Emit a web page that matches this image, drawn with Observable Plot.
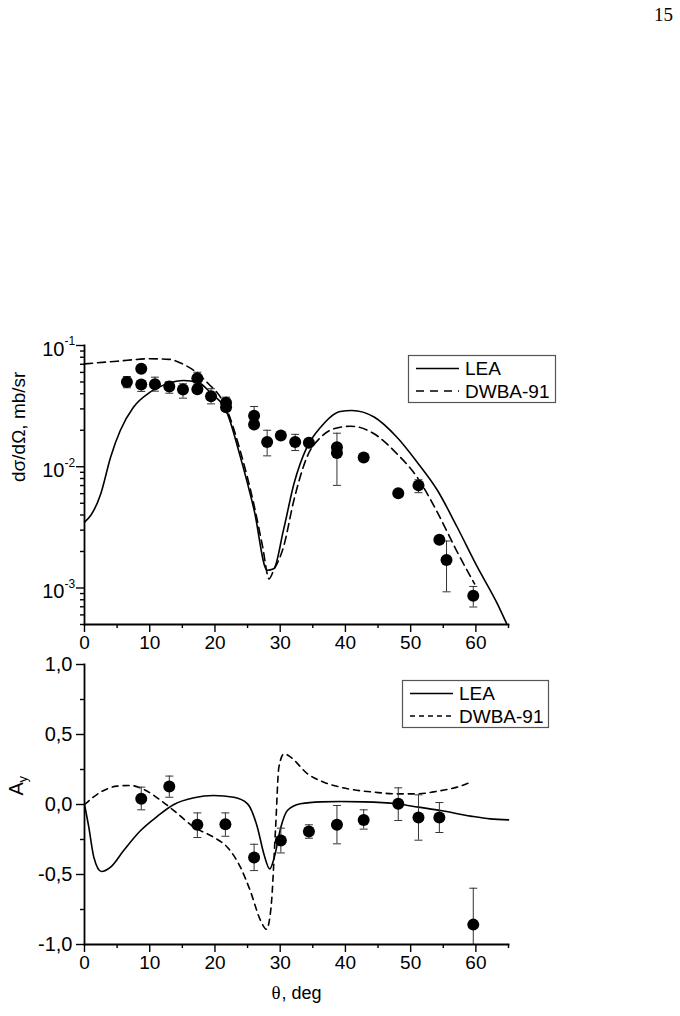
<!DOCTYPE html>
<html>
<head>
<meta charset="utf-8">
<script src="https://cdn.jsdelivr.net/npm/d3@7"></script>
<script src="https://cdn.jsdelivr.net/npm/@observablehq/plot@0.6"></script>
<style>
  body { margin: 0; background: #fff; }
  #page { position: relative; width: 680px; height: 1016px; overflow: hidden; background: #fff; }
  .abs { position: absolute; left: 0; }
</style>
</head>
<body>
<div id="page"></div>
<script>
// ---- Cross section dσ/dΩ (mb/sr), experiment ----
const csTheta = [6.5, 8.7, 8.7, 10.8, 13.0, 15.1, 17.3, 17.3, 19.4, 21.7, 21.7, 26.0, 26.0, 28.0, 30.1, 32.3, 34.4, 38.7, 38.7, 42.8, 48.1, 51.2, 54.4, 55.5, 59.6];
const csValue = [0.0499, 0.0643, 0.0477, 0.048, 0.0459, 0.0434, 0.0436, 0.0537, 0.0382, 0.0337, 0.031, 0.0263, 0.0223, 0.0160, 0.0181, 0.0160, 0.0158, 0.0145, 0.0130, 0.0119, 0.00605, 0.00702, 0.0025, 0.0017, 0.000863];
const csLow   = [0.0448, null, 0.0418, 0.042, 0.0404, 0.0368, 0.0405, 0.048, 0.033, 0.0286, null, 0.0223, null, 0.0123, null, 0.0136, null, 0.00702, null, null, 0.0058, 0.00611, null, 0.00093, 0.000697];
const csHigh  = [0.0555, null, 0.0514, 0.0548, 0.0505, 0.0483, 0.047, 0.0602, 0.044, 0.0375, null, 0.0314, null, 0.020, null, 0.0185, null, 0.0189, null, null, 0.0064, 0.00781, null, 0.00244, 0.00103];

// ---- Cross section, LEA calculation ----
const csLeaTheta = [0, 1, 2.5, 4, 5.5, 7.5, 10, 12.7, 15.2, 17.3, 19.3, 21.9, 23.9, 26, 28, 29, 30.5, 32.1, 34.1, 36.2, 39.2, 41, 44.4, 47.9, 51, 54.1, 57.1, 60.2, 63.3, 64.7];
const csLeaValue = [0.0035, 0.004, 0.006, 0.012, 0.020, 0.031, 0.041, 0.0483, 0.0514, 0.0499, 0.041, 0.0274, 0.012, 0.0044, 0.0014, 0.00144, 0.0030, 0.0072, 0.0145, 0.0212, 0.0286, 0.0291, 0.0257, 0.0175, 0.0109, 0.0064, 0.0032, 0.0015, 0.00074, 0.00051];

// ---- Cross section, DWBA-91 calculation ----
const csDwbaTheta = [0, 5, 10, 13, 15, 17, 19, 21, 22, 24, 26, 27.3, 28.3, 29, 30.5, 32.1, 34.1, 36.2, 39.2, 40.8, 44.4, 47.9, 51, 54.1, 57.1, 59.8];
const csDwbaValue = [0.0706, 0.0742, 0.0777, 0.0769, 0.0706, 0.061, 0.0483, 0.0363, 0.028, 0.0128, 0.0048, 0.0022, 0.00119, 0.0014, 0.00217, 0.0053, 0.012, 0.0175, 0.0212, 0.0216, 0.0187, 0.0128, 0.0082, 0.0042, 0.0020, 0.00108];

// ---- Analyzing power A_y, experiment ----
const ayTheta = [8.7, 13.0, 17.3, 21.6, 26.0, 30.1, 34.4, 38.7, 42.8, 48.1, 51.2, 54.4, 59.6];
const ayValue = [0.041, 0.129, -0.145, -0.141, -0.379, -0.257, -0.193, -0.145, -0.110, 0.005, -0.093, -0.093, -0.858];
const ayLow   = [-0.038, 0.052, -0.236, -0.227, -0.472, -0.346, -0.241, -0.281, -0.176, -0.114, -0.255, -0.2, -1.0];
const ayHigh  = [0.124, 0.203, -0.06, -0.06, -0.284, -0.169, -0.145, -0.007, -0.038, 0.119, 0.069, 0.014, -0.598];

// ---- A_y, LEA calculation ----
const ayLeaTheta = [0, 0.66, 1.43, 2.6, 4, 6, 8.6, 11.2, 13.7, 16.8, 19.8, 22.9, 25, 26.5, 27.5, 28.4, 29.1, 30.1, 31.1, 33.1, 36.2, 39.2, 42.8, 47.9, 51.2, 54.6, 59.2, 62.2, 65];
const ayLeaValue = [0, -0.162, -0.377, -0.479, -0.448, -0.329, -0.186, -0.083, 0, 0.048, 0.064, 0.052, 0.005, -0.162, -0.353, -0.46, -0.377, -0.162, -0.043, 0.005, 0.019, 0.021, 0.019, 0.005, -0.019, -0.043, -0.083, -0.103, -0.11];

// ---- A_y, DWBA-91 calculation ----
const ayDwbaTheta = [0, 2.45, 5, 7, 9.1, 11.7, 13.7, 16.8, 19.8, 21.9, 23.9, 25.4, 27, 27.9, 28.6, 29.3, 29.8, 30.6, 31.6, 34.2, 36.7, 39.2, 41, 44.4, 47.9, 51, 54.1, 57.1, 59.5];
const ayDwbaValue = [0, 0.088, 0.131, 0.136, 0.107, 0.029, -0.043, -0.162, -0.234, -0.305, -0.448, -0.615, -0.829, -0.891, -0.734, -0.162, 0.267, 0.362, 0.338, 0.219, 0.159, 0.124, 0.107, 0.088, 0.076, 0.076, 0.095, 0.124, 0.165];

// ---- Axis ticks ----
const thetaMajor = [0, 10, 20, 30, 40, 50, 60];
const thetaMinor = [5, 15, 25, 35, 45, 55, 65];
const csDecades = [1e-3, 1e-2, 1e-1];
const csMinor = [5e-4, 6e-4, 7e-4, 8e-4, 9e-4,
                 2e-3, 3e-3, 4e-3, 5e-3, 6e-3, 7e-3, 8e-3, 9e-3,
                 2e-2, 3e-2, 4e-2, 5e-2, 6e-2, 7e-2, 8e-2, 9e-2];
const ayMajor = [-1, -0.5, 0, 0.5, 1];
const ayMinor = [-0.75, -0.25, 0.25, 0.75];

const FONT = '"Liberation Sans", Arial, sans-serif';
const SERIF = '"Liberation Serif", "DejaVu Serif", serif';
const zip = (xs, ys) => xs.map((x, i) => ({x, y: ys[i]}));
const csPoints = csTheta.map((x, i) => ({x, y: csValue[i], lo: csLow[i], hi: csHigh[i]}));
const csBars = csPoints.filter(d => d.lo != null);
const ayPoints = ayTheta.map((x, i) => ({x, y: ayValue[i], lo: ayLow[i], hi: ayHigh[i]}));

// short horizontal cap for the error bars
const cap = {draw(ctx) { ctx.moveTo(-4, 0); ctx.lineTo(4, 0); }};

function errorMarks(data) {
  return [
    Plot.ruleX(data, {x: "x", y1: "lo", y2: "hi", stroke: "#333", strokeWidth: 1}),
    Plot.dot(data, {x: "x", y: "lo", symbol: cap, fill: "none", stroke: "#333", strokeWidth: 1}),
    Plot.dot(data, {x: "x", y: "hi", symbol: cap, fill: "none", stroke: "#333", strokeWidth: 1})
  ];
}

function thetaAxes() {
  return [
    Plot.axisX({ticks: thetaMajor, tickSize: 8, tickPadding: 3, tickFormat: d => String(d), fontSize: 19, strokeWidth: 1.4, label: null}),
    Plot.axisX({ticks: thetaMinor, tickSize: 4, tickFormat: () => "", strokeWidth: 1.4, label: null}),
    Plot.frame({anchor: "bottom", strokeWidth: 1.8}),
    Plot.frame({anchor: "left", strokeWidth: 1.8})
  ];
}

const page = document.getElementById("page");

// ---- Upper panel: differential cross section, log scale ----
const upper = Plot.plot({
  width: 680, height: 360,
  marginLeft: 84, marginRight: 172, marginTop: 45, marginBottom: 36,
  style: {fontFamily: FONT, fontSize: "19px", color: "black", background: "transparent", overflow: "visible"},
  x: {domain: [0, 65]},
  y: {type: "log", domain: [5e-4, 0.1]},
  marks: [
    Plot.line(zip(csLeaTheta, csLeaValue), {x: "x", y: "y", curve: "monotone-x", stroke: "black", strokeWidth: 1.6}),
    Plot.line(zip(csDwbaTheta, csDwbaValue), {x: "x", y: "y", curve: "monotone-x", stroke: "black", strokeWidth: 1.6, strokeDasharray: "8,5"}),
    ...errorMarks(csBars),
    Plot.dot(csPoints, {x: "x", y: "y", r: 6, fill: "black", stroke: "none"}),
    ...thetaAxes(),
    Plot.axisY({ticks: csDecades, tickSize: 8, tickFormat: () => "", strokeWidth: 1.4, label: null}),
    Plot.axisY({ticks: csMinor, tickSize: 4, tickFormat: () => "", strokeWidth: 1.4, label: null}),
    Plot.text(csDecades, {y: d => d, frameAnchor: "left", text: () => "10", textAnchor: "end", dx: -20, dy: 4, fontSize: 20}),
    Plot.text(csDecades, {y: d => d, frameAnchor: "left", text: d => String(Math.round(Math.log10(d))), textAnchor: "start", dx: -20, dy: -4, fontSize: 12}),
    Plot.text(["dσ/dΩ, mb/sr"], {text: d => d, frameAnchor: "left", rotate: -90, dx: -66, dy: -3, fontSize: 19})
  ]
});
upper.classList.add("abs");
upper.style.top = "300px";
page.appendChild(upper);

// ---- Lower panel: analyzing power ----
const fmtComma = d => d.toFixed(1).replace(".", ",");
const lower = Plot.plot({
  width: 680, height: 372,
  marginLeft: 84, marginRight: 172, marginTop: 20, marginBottom: 72,
  style: {fontFamily: FONT, fontSize: "19px", color: "black", background: "transparent", overflow: "visible"},
  x: {domain: [0, 65]},
  y: {domain: [-1, 1]},
  marks: [
    Plot.line(zip(ayLeaTheta, ayLeaValue), {x: "x", y: "y", curve: "monotone-x", stroke: "black", strokeWidth: 1.6}),
    Plot.line(zip(ayDwbaTheta, ayDwbaValue), {x: "x", y: "y", curve: "monotone-x", stroke: "black", strokeWidth: 1.6, strokeDasharray: "6,5"}),
    ...errorMarks(ayPoints),
    Plot.dot(ayPoints, {x: "x", y: "y", r: 6, fill: "black", stroke: "none"}),
    ...thetaAxes(),
    Plot.axisY({ticks: ayMajor, tickSize: 8, tickPadding: 4, tickFormat: fmtComma, fontSize: 20, strokeWidth: 1.4, label: null}),
    Plot.axisY({ticks: ayMinor, tickSize: 4, tickFormat: () => "", strokeWidth: 1.4, label: null}),
    Plot.text(["A"], {text: d => d, frameAnchor: "left", rotate: -90, dx: -68, dy: -9, fontSize: 20}),
    Plot.text(["y"], {text: d => d, frameAnchor: "left", rotate: -90, dx: -62, dy: -22, fontSize: 13}),
    // axis title: serif theta followed by sans-serif unit text
    Plot.text(["θ"], {text: d => d, frameAnchor: "bottom", textAnchor: "start", dx: -25, dy: 54, fontSize: 19, fontFamily: SERIF}),
    Plot.text([", deg"], {text: d => d, frameAnchor: "bottom", textAnchor: "start", dx: -15, dy: 54, fontSize: 18})
  ]
});
lower.classList.add("abs");
lower.style.top = "644px";
page.appendChild(lower);

// ---- Legends ----
function legend(left, top, w, h, dash, rows) {
  const svg = d3.create("svg")
    .attr("width", w).attr("height", h)
    .style("position", "absolute").style("left", left + "px").style("top", top + "px")
    .style("overflow", "visible");
  svg.append("rect").attr("x", 0.5).attr("y", 0.5).attr("width", w - 1).attr("height", h - 1)
    .attr("fill", "white").attr("stroke", "#555").attr("stroke-width", 1.2);
  rows.forEach((r, i) => {
    const cy = i === 0 ? 13.5 : 36;
    svg.append("line").attr("x1", 8).attr("x2", 51).attr("y1", cy).attr("y2", cy)
      .attr("stroke", "black").attr("stroke-width", 1.6)
      .attr("stroke-dasharray", r.dashed ? dash : null);
    svg.append("text").attr("x", 57).attr("y", cy).attr("dy", "0.35em")
      .attr("font-family", FONT).attr("font-size", 19).text(r.name);
  });
  page.appendChild(svg.node());
}
const series = [{name: "LEA", dashed: false}, {name: "DWBA-91", dashed: true}];
legend(408, 355, 148, 48, "8,6", series);
legend(402, 680, 147, 48, "5,4", series);

// ---- Page number ----
const pn = d3.create("svg").attr("width", 680).attr("height", 30)
  .style("position", "absolute").style("left", "0px").style("top", "0px");
pn.append("text").attr("x", 673).attr("y", 21).attr("text-anchor", "end")
  .attr("font-family", SERIF).attr("font-size", 19).text("15");
page.appendChild(pn.node());
</script>
</body>
</html>
